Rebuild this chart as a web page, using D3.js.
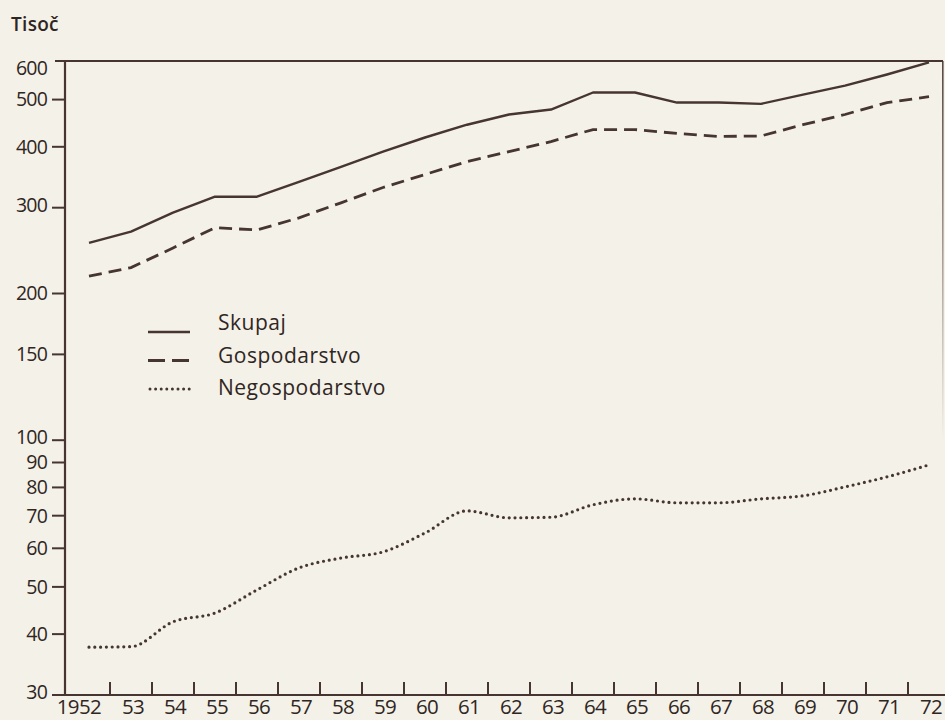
<!DOCTYPE html>
<html>
<head>
<meta charset="utf-8">
<script src="https://cdn.jsdelivr.net/npm/d3@7"></script>
<style>
  html, body { margin: 0; padding: 0; background: #f4f1e8; }
  svg { display: block; }
  text { font-family: "Open Sans", "DejaVu Sans", sans-serif; fill: #2f2623; }
</style>
</head>
<body>
<svg id="chart" width="945" height="720"></svg>
<script>
// ---- data ----
const years = d3.range(1952, 1973);
const yearLabels = ["1952","53","54","55","56","57","58","59","60","61","62","63","64","65","66","67","68","69","70","71","72"];
const skupaj = [254, 268, 293, 316, 316, 339, 364, 391, 418, 444, 466, 477, 517, 517, 493, 493, 490, 512, 534, 563, 596];
const gospodarstvo = [217, 226, 248, 273, 270, 286, 307, 330, 351, 373, 391, 410, 434, 434, 426, 420, 421, 444, 466, 493, 507];
const negospodarstvo = [37.6, 37.7, 42.4, 44.2, 49.3, 54.7, 57.3, 59, 64.5, 71.6, 69.3, 69.5, 73.7, 75.8, 74.4, 74.4, 75.8, 76.9, 80.2, 84.1, 89];
const yTicks = [30, 40, 50, 60, 70, 80, 90, 100, 150, 200, 300, 400, 500, 600];
const seriesNames = ["Skupaj", "Gospodarstvo", "Negospodarstvo"];
const yUnit = "Tisoč";

// ---- layout ----
const ink = "#463531";
const svg = d3.select("#chart");
const axisX = 65, plotTop = 61, plotBottom = 695;
const x = d3.scaleBand().domain(years).range([68, 950]).paddingInner(0).paddingOuter(0);
const y = d3.scaleLog().domain([30, 600]).range([plotBottom, plotTop]);
const cx = d => x(d) + x.bandwidth() / 2;

// frame
svg.append("line").attr("x1", axisX).attr("x2", axisX).attr("y1", plotTop).attr("y2", plotBottom)
  .attr("stroke", ink).attr("stroke-width", 2.2);
svg.append("line").attr("x1", 53).attr("x2", 945).attr("y1", plotBottom).attr("y2", plotBottom)
  .attr("stroke", ink).attr("stroke-width", 2.2);
svg.append("line").attr("x1", 55).attr("x2", 943).attr("y1", plotTop).attr("y2", plotTop)
  .attr("stroke", ink).attr("stroke-width", 2.2);
const grad = svg.append("defs").append("linearGradient").attr("id", "fade")
  .attr("x1", 0).attr("x2", 0).attr("y1", 0).attr("y2", 1);
grad.append("stop").attr("offset", "0%").attr("stop-color", ink).attr("stop-opacity", 0.9);
grad.append("stop").attr("offset", "100%").attr("stop-color", ink).attr("stop-opacity", 0);
svg.append("rect").attr("x", 942).attr("y", plotTop).attr("width", 1.6).attr("height", 380)
  .attr("fill", "url(#fade)");

// y ticks and labels
const yG = svg.append("g");
yTicks.forEach(t => {
  if (t !== 600) {
    yG.append("line").attr("x1", 52).attr("x2", axisX).attr("y1", y(t)).attr("y2", y(t))
      .attr("stroke", ink).attr("stroke-width", 2);
  }
  const off = t === 600 ? 7 : (t === 100 || t === 30 || t === 300) ? -3 : 0;
  yG.append("text").attr("x", 47).attr("y", y(t) + off).attr("dy", "0.35em")
    .attr("text-anchor", "end").attr("font-size", 19.5).attr("letter-spacing", -0.8).text(t);
});

// y unit
svg.append("text").attr("x", 11).attr("y", 31).attr("font-size", 19).attr("font-weight", 600)
  .attr("letter-spacing", 0.3).text(yUnit);

// x ticks (at year boundaries) and labels (centered in year bands)
const xG = svg.append("g");
years.slice(1).forEach(yr => {
  xG.append("line").attr("x1", x(yr)).attr("x2", x(yr)).attr("y1", plotBottom - 13).attr("y2", plotBottom)
    .attr("stroke", ink).attr("stroke-width", 2);
});
years.forEach((yr, i) => {
  xG.append("text").attr("x", cx(yr) + (i === 0 ? -10 : 2)).attr("y", 714)
    .attr("text-anchor", "middle").attr("font-size", 20.5).attr("letter-spacing", -0.6)
    .text(yearLabels[i]);
});

// lines
const lineLin = d3.line().x((d, i) => cx(years[i])).y(d => y(d));
const lineSmooth = d3.line().x((d, i) => cx(years[i])).y(d => y(d)).curve(d3.curveMonotoneX);
svg.append("path").attr("d", lineLin(skupaj)).attr("fill", "none")
  .attr("stroke", ink).attr("stroke-width", 2.4).attr("stroke-linejoin", "round");
svg.append("path").attr("d", lineLin(gospodarstvo)).attr("fill", "none")
  .attr("stroke", ink).attr("stroke-width", 2.8).attr("stroke-dasharray", "13 7");
svg.append("path").attr("d", lineSmooth(negospodarstvo)).attr("fill", "none")
  .attr("stroke", ink).attr("stroke-width", 3.2).attr("stroke-linecap", "round")
  .attr("stroke-dasharray", "0 5.8");

// legend
const dashes = [null, "17 7", "0 5.6"];
const widths = [2.6, 2.8, 3];
seriesNames.forEach((name, i) => {
  const ly = 332 + i * 28.5;
  const l = svg.append("line").attr("x1", 148).attr("x2", 190).attr("y1", ly).attr("y2", ly)
    .attr("stroke", ink).attr("stroke-width", widths[i]);
  if (dashes[i]) l.attr("stroke-dasharray", dashes[i]);
  if (i === 2) l.attr("stroke-linecap", "round").attr("x1", 150);
  svg.append("text").attr("x", 218).attr("y", 330 + i * 32.5).attr("font-size", 21)
    .attr("letter-spacing", 0.5).text(name);
});
</script>
</body>
</html>
